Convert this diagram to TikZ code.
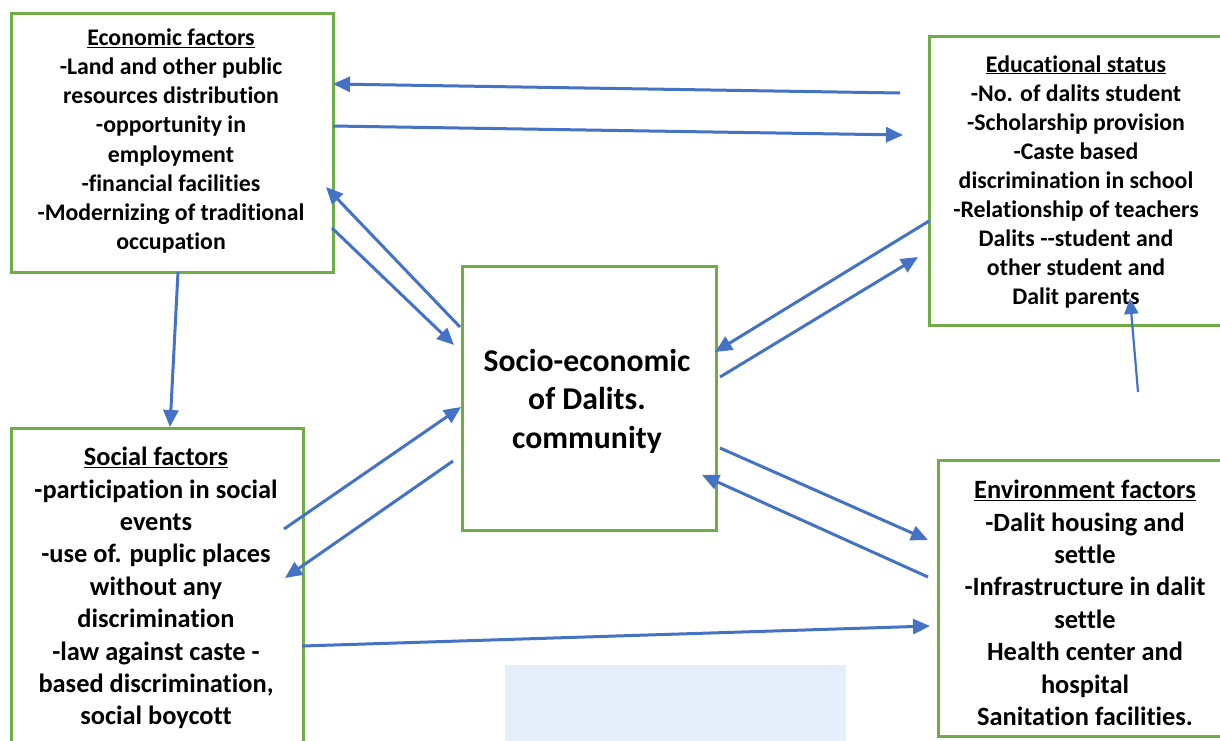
\documentclass[tikz,border=0pt]{standalone}
\usepackage{fontspec}
\setmainfont{Carlito}[Ligatures={NoCommon}]
\usetikzlibrary{arrows.meta}
\definecolor{boxgreen}{RGB}{112,173,71}
\definecolor{arrowblue}{RGB}{68,114,196}
\definecolor{paleblue}{RGB}{228,239,251}
\tikzset{
  box/.style={draw=boxgreen, line width=3pt, fill=white, inner sep=0pt},
  txt/.style={align=center, inner sep=0pt, font=\bfseries},
  smalltxt/.style={txt, font=\fontsize{23.8}{29.1}\selectfont\bfseries},
  largetxt/.style={txt, font=\fontsize{26.4}{32.4}\selectfont\bfseries},
  centertxt/.style={txt, font=\fontsize{31.7}{38.5}\selectfont\bfseries},
  arr/.style={draw=arrowblue, line width=3pt, -{Triangle[length=17pt,width=15pt]}},
  thinarr/.style={draw=arrowblue, line width=2.2pt, -{Triangle[length=16pt,width=14pt]}},
}
\begin{document}
\begin{tikzpicture}[x=1pt,y=-1pt]
\useasboundingbox (0,0) rectangle (1220,740);
\fill[white] (0,0) rectangle (1220,740);
% faint background rectangle
\fill[paleblue] (505,665) rectangle (846,742);
% boxes
\node[box, minimum width=322pt, minimum height=259pt, anchor=north west] (econ) at (10,12) {};
\node[box, minimum width=296pt, minimum height=289pt, anchor=north west] (edu) at (928,35) {};
\node[box, minimum width=292pt, minimum height=330pt, anchor=north west] (soc) at (10,427) {};
\node[box, minimum width=296pt, minimum height=276pt, anchor=north west] (env) at (937,459) {};
\node[box, minimum width=254pt, minimum height=264pt, anchor=north west] (ctr) at (461,265) {};
% texts
\node[smalltxt] (econT) at (171,141) {\underline{Economic factors}\\-Land and other public\\resources distribution\\-opportunity in\\employment\\-financial facilities\\-Modernizing of traditional\\occupation};
\node[smalltxt] (eduT) at (1076,182) {\underline{Educational status}\\-No. of dalits student\\-Scholarship provision\\-Caste based\\discrimination in school\\-Relationship of teachers\\Dalits -{}-student and\\other student and\\Dalit parents};
\node[largetxt] (socT) at (156,588) {\underline{Social factors}\\-participation in social\\events\\-use of. puplic places\\without any\\discrimination\\-law against caste -\\based discrimination,\\social boycott};
\node[largetxt] (envT) at (1085,603) {\underline{Environment factors}\\-Dalit housing and\\settle\\-Infrastructure in dalit\\settle\\Health center and\\hospital\\Sanitation facilities.};
\node[centertxt] (ctrT) at (587,401) {Socio-economic\\of Dalits.\\community};
% connectors
\coordinate (a1s) at (900,93);   \coordinate (a1e) at (333,84);
\coordinate (a2s) at (333,126);  \coordinate (a2e) at (903,135);
\coordinate (a3s) at (460,327);  \coordinate (a3e) at (326,187);
\coordinate (a4s) at (332,228);  \coordinate (a4e) at (454,345);
\coordinate (a5s) at (178,272);  \coordinate (a5e) at (170,427);
\coordinate (a6s) at (284,529);  \coordinate (a6e) at (461,407);
\coordinate (a7s) at (453,461);  \coordinate (a7e) at (285,578);
\coordinate (a8s) at (929,221);  \coordinate (a8e) at (715,352);
\coordinate (a9s) at (720,377);  \coordinate (a9e) at (918,257);
\coordinate (a10s) at (720,448); \coordinate (a10e) at (928,540);
\coordinate (a11s) at (928,577); \coordinate (a11e) at (702,475);
\coordinate (a12s) at (302,646); \coordinate (a12e) at (930,626);
\coordinate (a13s) at (1138,392); \coordinate (a13e) at (1130,298);
\draw[arr] (a1s) -- (a1e);
\draw[arr] (a2s) -- (a2e);
\draw[arr] (a3s) -- (a3e);
\draw[arr] (a4s) -- (a4e);
\draw[arr] (a5s) -- (a5e);
\draw[arr] (a6s) -- (a6e);
\draw[arr] (a7s) -- (a7e);
\draw[arr] (a8s) -- (a8e);
\draw[arr] (a9s) -- (a9e);
\draw[arr] (a10s) -- (a10e);
\draw[arr] (a11s) -- (a11e);
\draw[arr] (a12s) -- (a12e);
\draw[thinarr] (a13s) -- (a13e);
\end{tikzpicture}
\end{document}
